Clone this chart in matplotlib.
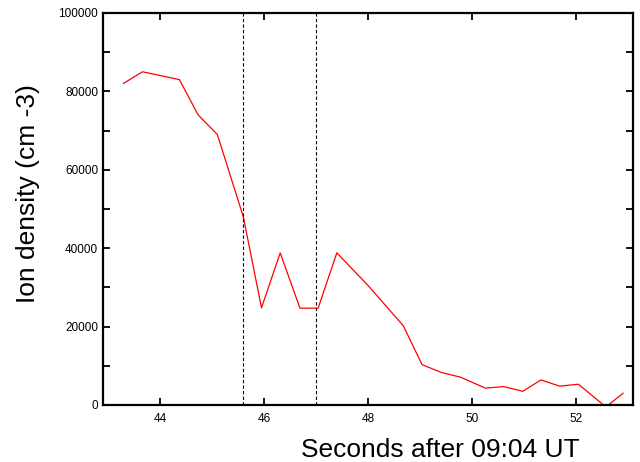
import matplotlib
matplotlib.use("Agg")
from matplotlib import pyplot as plt
from matplotlib.ticker import MultipleLocator

plt.rcParams['font.family'] = ['Liberation Sans', 'DejaVu Sans']

# ion density
seconds = [43.29, 43.66, 44.37, 44.73, 45.10, 45.60, 45.95, 46.31, 46.69,
           47.04, 47.40, 48.00, 48.68, 49.04, 49.41, 49.78, 50.26, 50.61,
           50.98, 51.33, 51.69, 52.05, 52.58, 52.91]
density = [82000, 85000, 83000, 74000, 69000, 48000, 24800, 38800, 24700,
           24700, 38800, 30500, 20200, 10300, 8300, 7100, 4300, 4700,
           3500, 6400, 4800, 5300, -500, 3000]
markers = [45.6, 47.0]   # dashed interval
x_ticks = [44, 46, 48, 50, 52]
y_ticks = [0, 20000, 40000, 60000, 80000, 100000]

fig = plt.figure(figsize=(6.4, 4.62), dpi=100)
ax = fig.add_axes([0.161, 0.1234, 0.828, 0.8485])

ax.plot(seconds, density, color='red', linewidth=0.9)
for m in markers:
    ax.axvline(m, color='black', linestyle=(0, (3, 2)), linewidth=0.8)

ax.set_xlim(42.9, 53.1)
ax.set_ylim(0, 100000)
ax.set_xticks(x_ticks)
ax.set_xticklabels([str(t) for t in x_ticks])
ax.set_yticks(y_ticks)
ax.set_yticklabels([str(t) for t in y_ticks])
ax.yaxis.set_minor_locator(MultipleLocator(10000))

ax.tick_params(which='both', direction='in', top=True, right=True,
               labelsize=8.5, width=1.3, length=5)
ax.tick_params(axis='x', pad=6)
for s in ax.spines.values():
    s.set_linewidth(1.6)

fig.text(0.6875, 0.011, 'Seconds after 09:04 UT', fontsize=19,
         ha='center', va='baseline')
fig.text(0.044, 0.582, 'Ion density (cm -3)', fontsize=19, rotation=90,
         ha='center', va='center')

fig.savefig('out.png', dpi=100)
